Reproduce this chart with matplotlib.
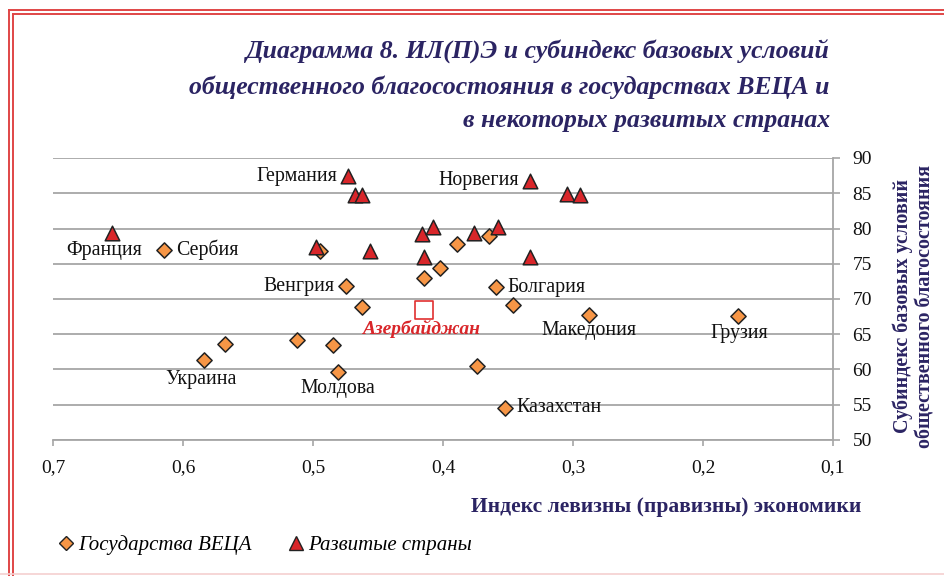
import matplotlib.pyplot as plt
from matplotlib.lines import Line2D

# Государства ВЕЦА: индекс левизны (правизны) и субиндекс
ca_x = [0.615, 0.475, 0.495, 0.462, 0.415, 0.402, 0.389, 0.365, 0.359, 0.346,
        0.288, 0.173, 0.568, 0.584, 0.512, 0.485, 0.481, 0.374, 0.352]
ca_y = [77.0, 71.8, 76.8, 68.9, 73.0, 74.4, 77.8, 79.0, 71.7, 69.1,
        67.8, 67.6, 63.6, 61.3, 64.2, 63.5, 59.6, 60.5, 54.6]

# Развитые страны
dev_x = [0.655, 0.473, 0.468, 0.462, 0.498, 0.456, 0.416, 0.408, 0.415,
         0.376, 0.358, 0.333, 0.305, 0.295, 0.333]
dev_y = [79.3, 87.4, 84.8, 84.7, 77.4, 76.8, 79.2, 80.2, 75.9,
         79.4, 80.2, 86.8, 84.9, 84.8, 75.9]

# Азербайджан
az_x, az_y = 0.415, 68.5

# подписи: (текст, x, y, сдвиг в пунктах, выравнивание)
labels = [
    ('Германия', 0.473, 87.4, (-8, 0), 'right', 'center'),
    ('Норвегия', 0.333, 86.8, (-8, 0), 'right', 'center'),
    ('Франция', 0.655, 79.3, (-5, -12), 'center', 'center'),
    ('Сербия', 0.615, 77.0, (9, 0), 'left', 'center'),
    ('Венгрия', 0.475, 71.8, (-8, 0), 'right', 'center'),
    ('Болгария', 0.359, 71.7, (8, 0), 'left', 'center'),
    ('Македония', 0.288, 67.8, (0, -11.5), 'center', 'center'),
    ('Грузия', 0.173, 67.6, (1, -13), 'center', 'center'),
    ('Украина', 0.584, 61.3, (-2, -13.5), 'center', 'center'),
    ('Молдова', 0.481, 59.6, (0, -12), 'center', 'center'),
    ('Казахстан', 0.352, 54.6, (8, 0), 'left', 'center'),
]

navy = '#2b2463'
serif = 'Liberation Serif'
orange = '#f79646'
red = '#d9262a'

fig = plt.figure(figsize=(9.45, 5.76), dpi=100)
ax = fig.add_axes([53 / 945, 1 - 440 / 576, 780 / 945, 282 / 576])

ax.scatter(ca_x, ca_y, marker='D', s=60, color=orange, edgecolor='#222222',
           linewidth=1.1, zorder=3)
ax.scatter(dev_x, dev_y, marker='^', s=110, color=red, edgecolor='#222222',
           linewidth=1.1, zorder=4)
ax.scatter([az_x], [az_y], marker='s', s=150, facecolor='white',
           edgecolor='#e03030', linewidth=1.2, zorder=3)
ax.annotate('Азербайджан', (az_x, az_y), xytext=(-2, -14), textcoords='offset points',
            ha='center', va='center', fontsize=14, fontfamily=serif,
            fontweight='bold', fontstyle='italic', color='#d9262a')

for txt, x, y, off, ha, va in labels:
    ax.annotate(txt, (x, y), xytext=off, textcoords='offset points',
                ha=ha, va=va, fontsize=14.3, fontfamily=serif, color='#111111')

ax.set_xlim(0.7, 0.1)
ax.set_ylim(50, 90)
ax.set_xticks([0.7, 0.6, 0.5, 0.4, 0.3, 0.2, 0.1])
ax.set_xticklabels(['0,7', '0,6', '0,5', '0,4', '0,3', '0,2', '0,1'])
ax.set_yticks(range(50, 91, 5))
ax.yaxis.tick_right()
ax.grid(axis='y', color='#a6a6a6', linewidth=1.3)
ax.set_axisbelow(True)

for side in ['left', 'top']:
    ax.spines[side].set_visible(False)
for side in ['right', 'bottom']:
    ax.spines[side].set_color('#a6a6a6')
    ax.spines[side].set_linewidth(1.3)
ax.tick_params(axis='x', direction='out', length=4, width=1.2, color='#a6a6a6',
               pad=10, labelsize=14)
ax.tick_params(axis='y', direction='out', length=5, width=1.2, color='#a6a6a6',
               pad=9, labelsize=14)
for lab in ax.get_xticklabels() + ax.get_yticklabels():
    lab.set_fontfamily(serif)
    lab.set_color('#111111')

fig.text(830 / 945, 1 - 86 / 576,
         'Диаграмма 8. ИЛ(П)Э и субиндекс базовых условий\n'
         'общественного благосостояния в государствах ВЕЦА и\n'
         'в некоторых развитых странах',
         ha='right', va='center', multialignment='right', linespacing=1.6,
         fontsize=18.5, fontfamily=serif, fontweight='bold', fontstyle='italic',
         color=navy)

fig.text(666 / 945, 1 - 507 / 576, 'Индекс левизны (правизны) экономики',
         ha='center', va='center', fontsize=15.5, fontfamily=serif,
         fontweight='bold', color=navy)

fig.text(914 / 945, 1 - 306 / 576,
         'Субиндекс базовых условий\nобщественного благосостояния',
         ha='center', va='center', rotation=90, multialignment='center',
         fontsize=14.5, fontfamily=serif, fontweight='bold', color=navy,
         linespacing=1.2)

handles = [
    Line2D([], [], linestyle='', marker='D', markersize=7, color=orange,
           markeredgecolor='#222222', label='Государства ВЕЦА'),
    Line2D([], [], linestyle='', marker='^', markersize=10, color=red,
           markeredgecolor='#222222', label='Развитые страны'),
]
fig.legend(handles=handles, loc='center left', bbox_to_anchor=(37 / 945, 1 - 545 / 576),
           ncol=2, frameon=False, handletextpad=0.1, columnspacing=1.6,
           handlelength=1.0, prop={'family': serif, 'style': 'italic', 'size': 15})

# красная двойная рамка
frame = '#e04646'
for xp in [9.5, 13]:
    fig.add_artist(Line2D([xp / 945, xp / 945], [0, 1 - (xp + 0.5) / 576],
                          transform=fig.transFigure, color=frame, linewidth=1.4))
for yp in [10, 13.5]:
    fig.add_artist(Line2D([(yp - 0.5) / 945, 1], [1 - yp / 576, 1 - yp / 576],
                          transform=fig.transFigure, color=frame, linewidth=1.4))
fig.add_artist(Line2D([0, 1], [2 / 576, 2 / 576], transform=fig.transFigure,
                      color='#f5d0d0', linewidth=1.2))

fig.savefig('out.png', dpi=100)
